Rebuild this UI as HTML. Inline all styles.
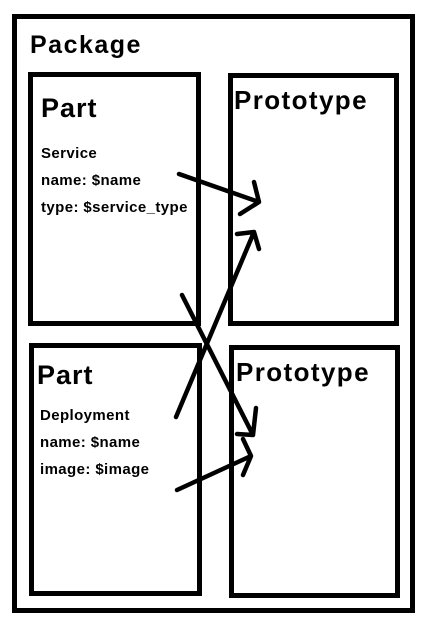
<!DOCTYPE html>
<html><head><meta charset="utf-8"><style>
html,body{margin:0;padding:0;background:#fff;}
svg{display:block;}
text{font-family:"Liberation Sans",sans-serif;font-weight:bold;fill:#000;}
</style></head><body>
<svg width="427" height="628" viewBox="0 0 427 628" xmlns="http://www.w3.org/2000/svg">
<g fill="none" stroke="#000" stroke-width="5">
<rect x="14.5" y="16.5" width="398" height="594"/>
<rect x="30.5" y="74.5" width="168" height="249"/>
<rect x="230.5" y="75.5" width="166" height="248"/>
<rect x="31.5" y="345.5" width="168" height="248"/>
<rect x="231.5" y="347.5" width="166" height="248"/>
</g>
<g fill="none" stroke="#000" stroke-width="4.5" stroke-linecap="round" stroke-linejoin="round">
<path d="M179 174 L259 202 M254 182 L259 202 L240 214"/>
<path d="M176 417 L254 232 M237 234 L254 232 L259 249"/>
<path d="M182 295 L253 435 M237 434 L253 435 L256 408"/>
<path d="M177 490 L251 456 M243 439 L251 456 L243 475"/>
</g>
<text x="30" y="53" font-size="25" letter-spacing="1.5">Package</text>
<text x="41" y="117" font-size="27" letter-spacing="1">Part</text>
<text x="234" y="109" font-size="26" letter-spacing="1.4">Prototype</text>
<text x="41" y="158" font-size="15" letter-spacing="0.4">Service</text>
<text x="41" y="185" font-size="15" letter-spacing="0.4">name: $name</text>
<text x="41" y="212" font-size="15" letter-spacing="0.4">type: $service_type</text>
<text x="37" y="384" font-size="27" letter-spacing="1">Part</text>
<text x="236" y="381" font-size="26" letter-spacing="1.4">Prototype</text>
<text x="40" y="420" font-size="15" letter-spacing="0.4">Deployment</text>
<text x="40" y="447" font-size="15" letter-spacing="0.4">name: $name</text>
<text x="40" y="474" font-size="15" letter-spacing="0.4">image: $image</text>
</svg>
</body></html>
